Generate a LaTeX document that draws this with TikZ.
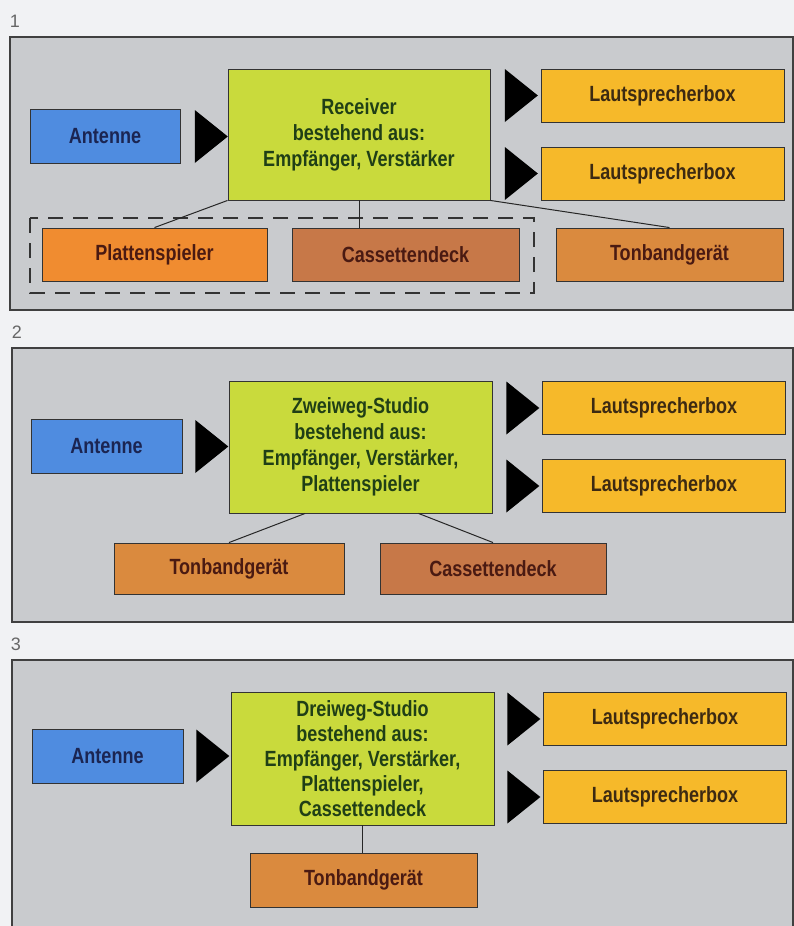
\documentclass[tikz,border=0pt]{standalone}
\usepackage{fontspec}
\newfontfamily\schmal{Liberation Sans}[FakeStretch=0.82]
\newfontfamily\ziffer{Liberation Sans}
\usepackage{tikz}
\usetikzlibrary{calc, shapes.geometric}

\definecolor{papier}{HTML}{F1F2F4}
\definecolor{feldgrau}{HTML}{C9CBCE}
\definecolor{antblau}{HTML}{4F8CE0}
\definecolor{antschrift}{HTML}{1B2552}
\definecolor{recgruen}{HTML}{C9DA3C}
\definecolor{recschrift}{HTML}{203F16}
\definecolor{lsgelb}{HTML}{F6B92A}
\definecolor{lsschrift}{HTML}{3D2A12}
\definecolor{plattorange}{HTML}{F08C30}
\definecolor{casbraun}{HTML}{C77848}
\definecolor{tonorange}{HTML}{DA8A3E}
\definecolor{braunschrift}{HTML}{4A1A12}

\tikzset{
  feld/.style={draw=black!75, line width=1.2pt, fill=feldgrau},
  kasten/.style={draw=black!80, line width=0.9pt, inner sep=0pt, align=center,
    font=\schmal\bfseries\fontsize{22}{26}\selectfont},
  pfeil/.style={isosceles triangle, isosceles triangle stretches, fill=black,
    inner sep=0pt, minimum width=53pt, minimum height=33pt},
  linie/.style={draw=black!85, line width=1pt},
  nummer/.style={font=\ziffer\fontsize{18}{18}\selectfont, text=black!60}
}

\begin{document}
\begin{tikzpicture}[x=1pt, y=-1pt]
\useasboundingbox (0,0) rectangle (794,926);
\fill[papier] (0,0) rectangle (794,926);

% Felder
\draw[feld] (10,37) rectangle (793,310);
\draw[feld] (12,348) rectangle (793,622);
\draw[feld] (12,660) rectangle (793,940);
\node[nummer] (nr1) at (15,21) {1};
\node[nummer] (nr2) at (17,332) {2};
\node[nummer] (nr3) at (16,644) {3};

% Lautsprecher
\foreach \p/\x/\ya/\yb in {1/662.5/95.5/173.5, 2/664/408/486, 3/665/719/797} {
  \node[kasten, fill=lsgelb, text=lsschrift, minimum width=243pt, minimum height=53pt]
    (lsa\p) at (\x,\ya) {Lautsprecherbox};
  \node[kasten, fill=lsgelb, text=lsschrift, minimum width=243pt, minimum height=53pt]
    (lsb\p) at (\x,\yb) {Lautsprecherbox};
  \node[pfeil] (pa\p) at ($(lsa\p.west)+(-23,0)$) {};
  \node[pfeil] (pb\p) at ($(lsb\p.west)+(-23,0)$) {};
}

% 1
\node[kasten, fill=antblau, text=antschrift, minimum width=150pt, minimum height=54pt]
  (ant1) at (105,136) {Antenne};
\node[pfeil] (pant1) at (207.5,136.5) {};
\node[kasten, fill=recgruen, text=recschrift, minimum width=262pt, minimum height=131pt]
  (rec1) at (359,134.5) {Receiver\\bestehend aus:\\Empf\"anger, Verst\"arker};
\draw[black!80, line width=1.2pt, dash pattern=on 15pt off 10pt] (30,218) rectangle (534,293);
\node[kasten, fill=plattorange, text=braunschrift, minimum width=225pt, minimum height=53pt]
  (plat1) at (154.5,254.5) {Plattenspieler};
\node[kasten, fill=casbraun, text=braunschrift, minimum width=227pt, minimum height=53pt]
  (cas1) at (405.5,254.5) {Cassettendeck};
\node[kasten, fill=tonorange, text=braunschrift, minimum width=227pt, minimum height=53pt]
  (ton1) at (669.5,254.5) {Tonbandger\"at};
\draw[linie] (rec1.south west) -- (plat1.north);
\draw[linie] (rec1.south) -- (rec1.south |- cas1.north);
\draw[linie] (rec1.south east) -- (ton1.north);

% 2
\node[kasten, fill=antblau, text=antschrift, minimum width=151pt, minimum height=54pt]
  (ant2) at (106.5,446) {Antenne};
\node[pfeil] (pant2) at (208,446.5) {};
\node[kasten, fill=recgruen, text=recschrift, minimum width=263pt, minimum height=132pt]
  (zw2) at (360.5,447) {Zweiweg-Studio\\bestehend aus:\\Empf\"anger, Verst\"arker,\\Plattenspieler};
\node[kasten, fill=tonorange, text=braunschrift, minimum width=230pt, minimum height=51pt]
  (ton2) at (229,568.5) {Tonbandger\"at};
\node[kasten, fill=casbraun, text=braunschrift, minimum width=226pt, minimum height=51pt]
  (cas2) at (493,568.5) {Cassettendeck};
\draw[linie] ($(zw2.south west)!0.29!(zw2.south east)$) -- (ton2.north);
\draw[linie] ($(zw2.south west)!0.72!(zw2.south east)$) -- (cas2.north);

% 3
\node[kasten, fill=antblau, text=antschrift, minimum width=151pt, minimum height=54pt]
  (ant3) at (107.5,756) {Antenne};
\node[pfeil] (pant3) at (209,756) {};
\node[kasten, fill=recgruen, text=recschrift, minimum width=263pt, minimum height=133pt,
  font=\schmal\bfseries\fontsize{22}{25}\selectfont]
  (dr3) at (362.5,758.5) {Dreiweg-Studio\\bestehend aus:\\Empf\"anger, Verst\"arker,\\Plattenspieler,\\Cassettendeck};
\node[kasten, fill=tonorange, text=braunschrift, minimum width=227pt, minimum height=54pt]
  (ton3) at (363.5,880) {Tonbandger\"at};
\draw[linie] (dr3.south) -- (dr3.south |- ton3.north);

\end{tikzpicture}
\end{document}
